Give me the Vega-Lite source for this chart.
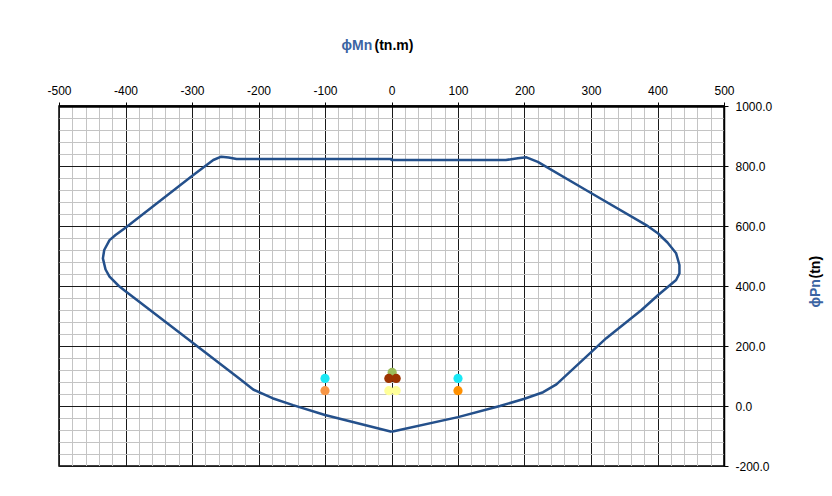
{
  "$schema": "https://vega.github.io/schema/vega-lite/v6.json",
  "autosize": "none",
  "padding": {"left": 59, "top": 106, "right": 108, "bottom": 30},
  "width": 665,
  "height": 360,
  "background": "#ffffff",
  "config": {
    "view": {"stroke": "#000000", "strokeWidth": 1.5},
    "axis": {"labelFont": "Liberation Sans", "titleFont": "Liberation Sans", "labelColor": "#000000", "labelFontSize": 12}
  },
  "datasets": {
    "curve": [
      {"i": 1, "m": 0, "p": -86},
      {"i": 2, "m": 100, "p": -37},
      {"i": 3, "m": 163, "p": 0},
      {"i": 4, "m": 200, "p": 24},
      {"i": 5, "m": 228, "p": 46},
      {"i": 6, "m": 248, "p": 72},
      {"i": 7, "m": 323, "p": 226},
      {"i": 8, "m": 376, "p": 320},
      {"i": 9, "m": 401, "p": 370},
      {"i": 10, "m": 428, "p": 420},
      {"i": 11, "m": 433, "p": 442},
      {"i": 12, "m": 433, "p": 470},
      {"i": 13, "m": 428, "p": 509},
      {"i": 14, "m": 415, "p": 545},
      {"i": 15, "m": 401, "p": 575},
      {"i": 16, "m": 383, "p": 603},
      {"i": 17, "m": 300, "p": 710},
      {"i": 18, "m": 220, "p": 814},
      {"i": 19, "m": 203, "p": 829},
      {"i": 20, "m": 190, "p": 826},
      {"i": 21, "m": 172, "p": 820},
      {"i": 22, "m": 0, "p": 820},
      {"i": 23, "m": 0, "p": 823},
      {"i": 24, "m": -233, "p": 823},
      {"i": 25, "m": -245, "p": 828},
      {"i": 26, "m": -256, "p": 831},
      {"i": 27, "m": -268, "p": 820},
      {"i": 28, "m": -300, "p": 767},
      {"i": 29, "m": -400, "p": 594},
      {"i": 30, "m": -415, "p": 570},
      {"i": 31, "m": -424, "p": 553},
      {"i": 32, "m": -432, "p": 520},
      {"i": 33, "m": -434, "p": 492},
      {"i": 34, "m": -430, "p": 455},
      {"i": 35, "m": -424, "p": 431},
      {"i": 36, "m": -410, "p": 400},
      {"i": 37, "m": -399, "p": 381},
      {"i": 38, "m": -321, "p": 248},
      {"i": 39, "m": -228, "p": 90},
      {"i": 40, "m": -208, "p": 55},
      {"i": 41, "m": -179, "p": 26},
      {"i": 42, "m": -148, "p": 3},
      {"i": 43, "m": -100, "p": -30},
      {"i": 44, "m": 0, "p": -86}
    ],
    "pts": [
      {"k": "A", "m": -100, "p": 92},
      {"k": "B", "m": -100, "p": 51},
      {"k": "C", "m": 100, "p": 92},
      {"k": "D", "m": 100, "p": 51},
      {"k": "E", "m": 1, "p": 112},
      {"k": "F", "m": -4, "p": 92},
      {"k": "F", "m": 7, "p": 92},
      {"k": "G", "m": -4, "p": 51},
      {"k": "G", "m": 7, "p": 51}
    ]
  },
  "resolve": {"axis": {"x": "independent", "y": "independent"}},
  "layer": [
    {
      "data": {"name": "curve"},
      "mark": {"type": "line", "color": "#24508b", "strokeWidth": 2.5, "strokeJoin": "round"},
      "encoding": {
        "x": {
          "field": "m", "type": "quantitative",
          "scale": {"domain": [-500, 500], "nice": false, "zero": false},
          "axis": {
            "orient": "top",
            "values": [-500,-480,-460,-440,-420,-400,-380,-360,-340,-320,-300,-280,-260,-240,-220,-200,-180,-160,-140,-120,-100,-80,-60,-40,-20,0,20,40,60,80,100,120,140,160,180,200,220,240,260,280,300,320,340,360,380,400,420,440,460,480,500],
            "labelExpr": "datum.value % 100 === 0 ? '' + datum.value : ''",
            "labelPadding": 5,
            "labelFlush": false,
            "labelOverlap": false,
            "grid": true,
            "gridColor": {"condition": {"test": "datum.value % 100 === 0", "value": "#1a1a1a"}, "value": "#c4c4c4"},
            "gridWidth": 1,
            "ticks": true,
            "tickSize": 4,
            "tickColor": "#000000",
            "tickOpacity": {"condition": {"test": "datum.value % 100 === 0", "value": 1}, "value": 0},
            "domain": true,
            "domainColor": "#000000",
            "domainWidth": 2.5,
            "title": "ϕMn",
            "titleColor": "#3b64a3",
            "titleFontSize": 14,
            "titleFontWeight": "bold",
            "titleAlign": "left",
            "titleBaseline": "alphabetic",
            "titleAnchor": null,
            "titleX": 282,
            "titleY": -57
          }
        },
        "y": {
          "field": "p", "type": "quantitative",
          "scale": {"domain": [-200, 1000], "nice": false, "zero": false},
          "axis": {
            "orient": "right",
            "values": [-200,-160,-120,-80,-40,0,40,80,120,160,200,240,280,320,360,400,440,480,520,560,600,640,680,720,760,800,840,880,920,960,1000],
            "labelExpr": "datum.value % 200 === 0 ? (datum.value < 0 ? '-' : '') + format(abs(datum.value), '.1f') : ''",
            "labelPadding": 7,
            "labelFlush": false,
            "labelOverlap": false,
            "grid": true,
            "gridColor": {"condition": {"test": "datum.value % 200 === 0", "value": "#1a1a1a"}, "value": "#c4c4c4"},
            "gridWidth": 1,
            "ticks": true,
            "tickSize": 4,
            "tickColor": "#000000",
            "tickOpacity": {"condition": {"test": "datum.value % 200 === 0", "value": 1}, "value": 0},
            "domain": true,
            "domainColor": "#000000",
            "domainWidth": 1.5,
            "title": "ϕPn",
            "titleColor": "#3b64a3",
            "titleFontSize": 14,
            "titleFontWeight": "bold",
            "titleAngle": 270,
            "titleAlign": "left",
            "titleBaseline": "middle",
            "titleAnchor": null,
            "titleX": 91,
            "titleY": 201
          }
        },
        "order": {"field": "i", "type": "quantitative"}
      }
    },
    {
      "data": {"name": "pts"},
      "mark": {"type": "circle", "size": 85, "opacity": 1},
      "encoding": {
        "x": {
          "field": "m", "type": "quantitative",
          "axis": {
            "orient": "bottom",
            "grid": false, "ticks": false, "labels": false, "domain": false,
            "title": "(tn.m)",
            "titleColor": "#000000",
            "titleFontSize": 14,
            "titleFontWeight": "bold",
            "titleAlign": "left",
            "titleBaseline": "alphabetic",
            "titleAnchor": null,
            "titleX": 315,
            "titleY": -417
          }
        },
        "y": {
          "field": "p", "type": "quantitative",
          "axis": {
            "orient": "left",
            "grid": false, "ticks": false, "labels": false, "domain": false,
            "title": "(tn)",
            "titleColor": "#000000",
            "titleFontSize": 14,
            "titleFontWeight": "bold",
            "titleAngle": 270,
            "titleAlign": "left",
            "titleBaseline": "middle",
            "titleAnchor": null,
            "titleX": 756,
            "titleY": 172
          }
        },
        "color": {
          "field": "k", "type": "nominal", "legend": null,
          "scale": {"domain": ["A","B","C","D","E","F","G"], "range": ["#1ae8f5","#f79646","#1ae8f5","#ff9000","#9bbb59","#9c3300","#ffff99"]}
        }
      }
    }
  ]
}
